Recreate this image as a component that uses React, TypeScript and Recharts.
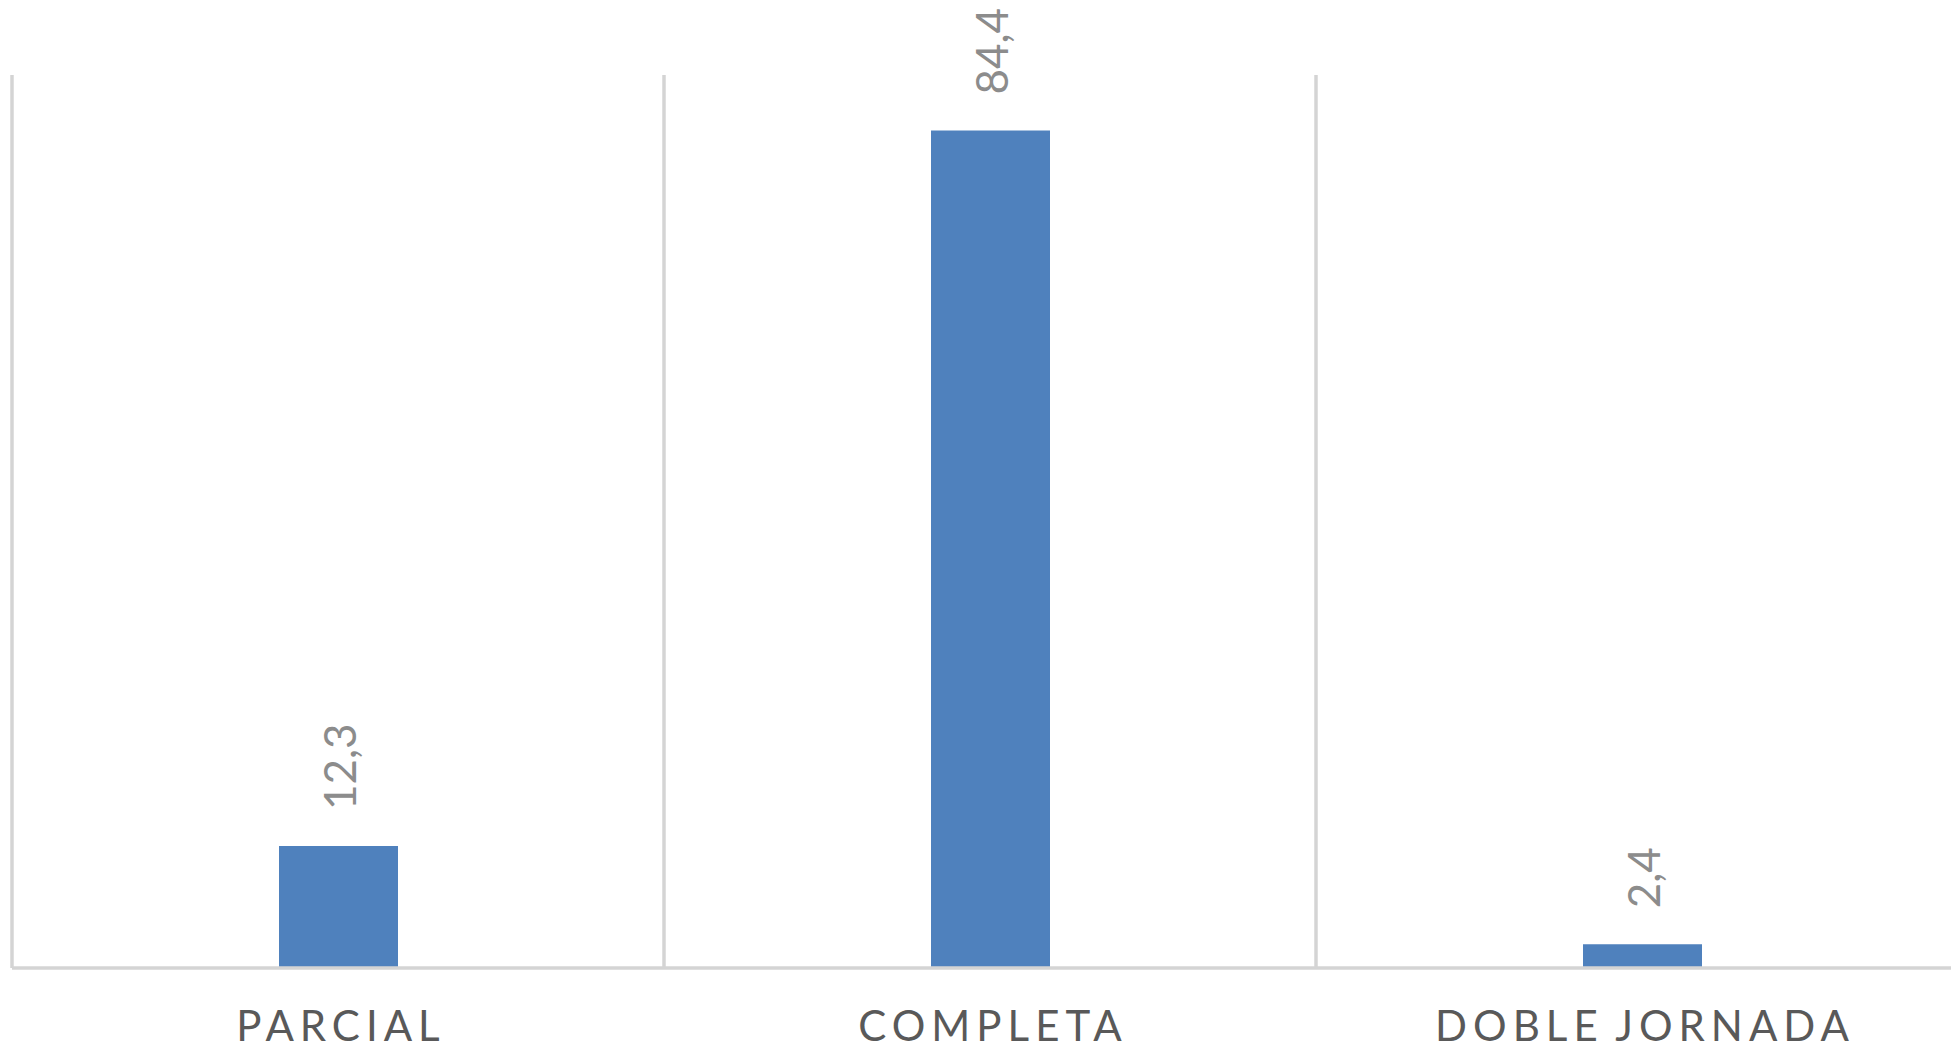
import { BarChart, Bar, XAxis, YAxis, CartesianGrid, LabelList } from "recharts";

const categories = ["PARCIAL", "COMPLETA", "DOBLE JORNADA"];
const values = [12.3, 84.4, 2.4];
const gridBounds = [0, 1, 2, 3];

const data = categories.map((name, i) => ({ name, value: values[i] }));

const FONT = "Lato, 'Open Sans', sans-serif";

const CategoryTick = (props: any) => {
  const { x, y, payload } = props;
  return (
    <text
      x={x + 3}
      y={y}
      dy={73}
      textAnchor="middle"
      fill="#595959"
      fontSize={42}
      fontFamily={FONT}
      letterSpacing={6}
      wordSpacing={-4}
    >
      {payload.value}
    </text>
  );
};

const ValueLabel = (props: any) => {
  const { x, y, width, value } = props;
  const cx = x + width / 2;
  return (
    <text
      transform={`translate(${cx},${y - 36}) rotate(-90)`}
      textAnchor="start"
      dominantBaseline="central"
      fill="#8c8c8c"
      fontSize={44}
      fontFamily={FONT}
    >
      {Number(value).toFixed(1).replace(".", ",")}
    </text>
  );
};

// vertical grid lines sit on the category boundaries
const boundaryLines = ({ offset }: any) =>
  gridBounds.map((i) => offset.left + (i * offset.width) / categories.length);

export default function App() {
  return (
    <div
      style={{
        position: "fixed",
        left: 0,
        top: 0,
        width: 1951,
        height: 1049,
        overflow: "hidden",
        background: "#fff",
      }}
    >
      <BarChart
        width={1980}
        height={1049}
        data={data}
        margin={{ top: 75, right: 12, bottom: 0, left: 12 }}
      >
        <CartesianGrid
          vertical
          horizontal={false}
          stroke="#d4d4d4"
          strokeWidth={3.5}
          verticalCoordinatesGenerator={boundaryLines}
        />
        <XAxis
          dataKey="name"
          height={81}
          tickLine={false}
          tickSize={0}
          tickMargin={0}
          axisLine={{ stroke: "#d4d4d4", strokeWidth: 3.5 }}
          tick={<CategoryTick />}
          interval={0}
        />
        <YAxis domain={[0, 90]} hide />
        <Bar
          dataKey="value"
          fill="#4f81bd"
          barSize={119}
          isAnimationActive={false}
        >
          <LabelList dataKey="value" content={<ValueLabel />} />
        </Bar>
      </BarChart>
    </div>
  );
}
